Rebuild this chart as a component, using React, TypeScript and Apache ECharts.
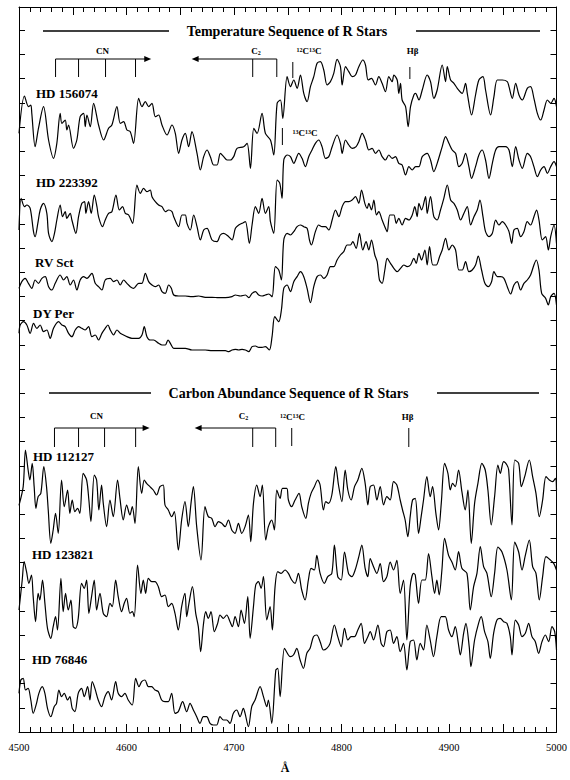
import React, { useEffect, useRef } from "react";
import * as echarts from "echarts";

type Pt = [number, number];

// Wavelength axis (Å)
const lambdaMin = 4500;
const lambdaMax = 5000;
const lambdaLabels = [4500, 4600, 4700, 4800, 4900, 5000];

// Relative flux, arbitrary units, spectra stacked with offsets
const fluxMax = 2175;
const fluxTick = 72.6;

const hd156074: Pt[] = [[4500,1796],[4505.1,1908],[4508.8,1876],[4511.0,1881],[4511.9,1856],[4515.0,1756],[4518.1,1811],[4522.8,1876],[4527.5,1776],[4532.1,1721],[4535.2,1766],[4538.3,1856],[4539.9,1826],[4543.0,1836],[4544.5,1806],[4546.1,1821],[4550.7,1751],[4553.8,1776],[4556.9,1846],[4560.1,1856],[4561.6,1816],[4563.2,1851],[4566.3,1816],[4569.4,1886],[4574.0,1821],[4578.7,1776],[4583.3,1811],[4586.4,1821],[4591.1,1876],[4594.2,1826],[4597.3,1831],[4600.4,1806],[4603.5,1801],[4606.6,1766],[4611.3,1901],[4614.4,1876],[4617.5,1891],[4620.6,1876],[4623.7,1886],[4626.8,1846],[4629.9,1851],[4633.0,1821],[4637.7,1791],[4642.3,1821],[4645.4,1796],[4648.5,1736],[4651.6,1776],[4654.7,1796],[4657.8,1756],[4660.9,1801],[4665.6,1736],[4668.7,1686],[4671.8,1726],[4674.9,1746],[4678.0,1726],[4681.1,1701],[4684.2,1701],[4687.3,1736],[4690.4,1726],[4693.5,1716],[4696.6,1716],[4699.7,1726],[4702.8,1751],[4709.0,1756],[4712.2,1766],[4715.3,1691],[4718.4,1811],[4721.5,1796],[4726.1,1856],[4729.2,1796],[4733.9,1776],[4737.0,1731],[4740.1,1886],[4743.2,1896],[4745.4,1841],[4749.4,1966],[4752.5,1936],[4755.6,1956],[4758.7,1931],[4761.8,1971],[4764.9,1916],[4768.0,1891],[4771.1,1936],[4774.2,1966],[4777.3,2006],[4780.4,2011],[4783.5,1986],[4786.6,1941],[4789.7,1951],[4792.8,1976],[4795.9,2018],[4799.0,1996],[4800.6,1941],[4803.7,1996],[4806.8,1981],[4809.9,1966],[4813.0,1971],[4816.1,1996],[4819.8,2016],[4822.3,2001],[4824.8,1956],[4827.9,1961],[4831.6,1941],[4834.7,1966],[4837.8,1946],[4840.9,1921],[4844.0,1966],[4847.1,1951],[4848.7,1971],[4851.8,1956],[4853.3,1916],[4854.9,1946],[4856.4,1896],[4859.6,1876],[4862.0,1816],[4864.2,1876],[4867.3,1911],[4868.9,1916],[4872.0,1896],[4875.1,1926],[4879.7,1971],[4882.8,1951],[4885.9,1901],[4889.0,1926],[4893.7,2001],[4896.8,1951],[4898.4,1996],[4901.5,1956],[4904.6,1946],[4907.7,1931],[4912.3,1916],[4915.4,1946],[4917.0,1916],[4921.0,1851],[4924.7,1911],[4927.8,1956],[4931.6,1966],[4934.0,1926],[4938.7,1851],[4941.8,1906],[4944.9,1956],[4949.6,1956],[4954.2,1951],[4955.8,1936],[4958.9,1901],[4962.0,1946],[4965.1,1911],[4968.2,1896],[4972.8,1931],[4975.9,1936],[4979.0,1901],[4982.2,1856],[4985.3,1836],[4988.4,1866],[4991.5,1896],[4994.6,1886],[4997.7,1901],[5000,1876]];

const hd223392: Pt[] = [[4500,1506],[4502.0,1601],[4505.1,1576],[4507.3,1581],[4510.4,1571],[4513.5,1501],[4515.0,1486],[4517.5,1526],[4519.7,1566],[4522.8,1586],[4525.9,1556],[4527.5,1496],[4530.6,1471],[4533.0,1496],[4535.2,1536],[4538.3,1581],[4540.5,1546],[4543.0,1561],[4544.5,1541],[4547.6,1556],[4549.2,1536],[4552.9,1496],[4555.4,1546],[4558.5,1586],[4561.0,1591],[4562.2,1556],[4564.7,1591],[4567.2,1556],[4570.0,1611],[4572.5,1576],[4574.0,1546],[4577.7,1516],[4580.2,1536],[4583.3,1556],[4586.4,1561],[4590.2,1611],[4593.3,1566],[4596.4,1576],[4598.9,1556],[4602.0,1551],[4605.7,1526],[4609.7,1641],[4612.8,1616],[4615.9,1631],[4619.0,1621],[4622.1,1626],[4623.7,1606],[4626.8,1591],[4629.9,1581],[4633.0,1576],[4636.1,1561],[4639.2,1566],[4642.3,1561],[4643.9,1546],[4648.5,1516],[4651.6,1551],[4654.7,1551],[4656.3,1526],[4659.4,1506],[4662.5,1551],[4665.6,1516],[4668.7,1476],[4671.8,1506],[4674.9,1511],[4679.6,1476],[4684.2,1471],[4687.3,1491],[4690.4,1496],[4695.1,1486],[4698.2,1476],[4701.3,1511],[4704.4,1521],[4707.5,1526],[4710.6,1531],[4714.3,1466],[4716.8,1521],[4719.9,1576],[4723.0,1556],[4726.1,1601],[4729.2,1556],[4732.3,1576],[4733.9,1531],[4737.0,1496],[4740.1,1656],[4742.6,1646],[4744.7,1601],[4746.3,1716],[4749.4,1731],[4752.5,1726],[4755.6,1706],[4760.2,1736],[4763.3,1721],[4766.4,1696],[4769.5,1726],[4772.6,1746],[4775.7,1766],[4778.8,1776],[4781.9,1756],[4785.1,1721],[4788.2,1726],[4791.3,1756],[4795.9,1791],[4799.0,1766],[4800.6,1736],[4803.7,1776],[4806.8,1761],[4809.9,1751],[4813.6,1756],[4816.1,1771],[4819.2,1796],[4822.3,1776],[4825.4,1746],[4828.5,1751],[4831.6,1736],[4834.7,1746],[4837.8,1726],[4840.9,1716],[4844.0,1731],[4847.1,1721],[4850.2,1726],[4853.3,1706],[4856.4,1701],[4859.6,1671],[4862.7,1696],[4865.8,1686],[4868.9,1696],[4872.0,1696],[4875.1,1726],[4879.7,1736],[4882.8,1716],[4885.9,1681],[4889.0,1706],[4893.7,1756],[4896.8,1786],[4899.9,1766],[4903.0,1746],[4906.1,1736],[4909.2,1696],[4912.3,1706],[4915.4,1736],[4918.5,1696],[4921.0,1661],[4924.7,1696],[4927.8,1731],[4930.9,1746],[4934.0,1716],[4937.2,1661],[4940.3,1706],[4943.4,1746],[4946.5,1756],[4952.7,1756],[4955.8,1746],[4958.9,1696],[4962.0,1756],[4965.1,1716],[4968.2,1691],[4972.8,1736],[4975.9,1726],[4979.0,1696],[4982.2,1666],[4985.3,1686],[4988.4,1696],[4991.5,1676],[4994.6,1696],[4997.7,1711],[5000,1696]];

const rvSct: Pt[] = [[4500,1331],[4502.6,1351],[4505.7,1361],[4508.8,1346],[4511.9,1331],[4515.0,1356],[4518.1,1346],[4521.3,1361],[4524.4,1366],[4527.5,1336],[4530.6,1326],[4533.7,1346],[4538.3,1371],[4541.4,1356],[4544.5,1366],[4547.6,1341],[4550.7,1356],[4553.8,1326],[4556.9,1356],[4560.1,1366],[4563.2,1361],[4567.8,1376],[4570.9,1346],[4574.0,1336],[4577.1,1326],[4580.2,1356],[4584.9,1361],[4588.0,1351],[4591.1,1356],[4594.2,1341],[4597.3,1356],[4600.4,1346],[4603.5,1336],[4606.6,1331],[4611.3,1346],[4614.4,1346],[4617.5,1376],[4620.6,1351],[4623.7,1341],[4626.8,1336],[4629.9,1341],[4633.0,1321],[4636.1,1316],[4639.2,1341],[4641.7,1331],[4643.9,1311],[4648.5,1308],[4654.7,1308],[4660.9,1306],[4667.1,1308],[4673.3,1304],[4679.6,1304],[4685.8,1303],[4692.0,1303],[4698.2,1306],[4701.3,1311],[4705.9,1308],[4710.6,1311],[4713.7,1303],[4716.8,1316],[4719.9,1321],[4723.0,1311],[4726.1,1308],[4729.2,1311],[4732.3,1314],[4735.4,1306],[4738.5,1396],[4741.6,1386],[4744.1,1356],[4746.3,1476],[4749.4,1496],[4752.5,1491],[4755.6,1501],[4758.7,1516],[4761.8,1521],[4764.9,1516],[4768.0,1511],[4770.2,1476],[4772.0,1461],[4775.7,1501],[4778.8,1521],[4781.9,1516],[4785.1,1516],[4788.2,1506],[4791.3,1536],[4794.4,1566],[4797.5,1546],[4800.6,1576],[4803.7,1591],[4806.8,1591],[4809.9,1596],[4813.0,1606],[4816.1,1586],[4818.6,1626],[4821.7,1586],[4823.9,1571],[4825.4,1586],[4827.9,1566],[4830.1,1596],[4832.5,1551],[4834.7,1561],[4837.8,1536],[4840.3,1516],[4842.5,1501],[4845.0,1551],[4848.7,1551],[4850.9,1526],[4853.3,1541],[4856.4,1521],[4859.6,1541],[4862.7,1536],[4865.8,1551],[4868.2,1576],[4870.4,1546],[4872.0,1586],[4874.5,1566],[4878.2,1606],[4879.7,1556],[4882.8,1606],[4885.9,1546],[4889.0,1536],[4892.1,1566],[4895.2,1601],[4898.4,1641],[4901.5,1596],[4904.6,1586],[4907.7,1566],[4910.8,1536],[4913.9,1556],[4917.0,1576],[4920.1,1521],[4923.2,1546],[4926.3,1566],[4928.8,1596],[4931.6,1546],[4934.0,1501],[4937.2,1486],[4940.3,1496],[4943.4,1536],[4946.5,1521],[4949.6,1531],[4952.7,1521],[4955.8,1501],[4958.3,1466],[4960.4,1506],[4963.5,1511],[4966.6,1486],[4969.7,1501],[4972.8,1531],[4975.9,1521],[4979.0,1546],[4981.5,1566],[4983.7,1536],[4986.8,1476],[4989.9,1486],[4992.4,1446],[4994.6,1486],[4997.7,1521],[5000,1466]];

const dyPer: Pt[] = [[4500,1196],[4501.1,1221],[4504.2,1231],[4507.3,1221],[4510.4,1196],[4513.5,1226],[4516.6,1211],[4519.7,1221],[4522.8,1201],[4525.9,1206],[4529.0,1181],[4532.1,1211],[4536.8,1231],[4539.9,1221],[4543.0,1216],[4546.1,1196],[4549.2,1186],[4552.3,1206],[4555.4,1216],[4558.5,1211],[4561.6,1206],[4564.7,1216],[4567.8,1186],[4570.9,1191],[4574.0,1176],[4577.1,1196],[4580.2,1211],[4582.7,1221],[4584.9,1206],[4588.0,1191],[4591.1,1206],[4594.2,1196],[4597.3,1191],[4600.4,1186],[4605.1,1181],[4608.2,1181],[4611.3,1181],[4614.4,1191],[4616.5,1216],[4619.0,1186],[4622.1,1176],[4625.2,1176],[4629.9,1166],[4633.0,1161],[4636.1,1161],[4638.6,1176],[4640.8,1166],[4643.9,1151],[4648.5,1151],[4654.7,1151],[4660.9,1146],[4667.1,1146],[4673.3,1146],[4679.6,1144],[4685.8,1144],[4692.0,1144],[4695.1,1141],[4698.2,1146],[4701.3,1148],[4704.4,1146],[4707.5,1148],[4710.6,1146],[4713.7,1141],[4716.8,1156],[4719.9,1158],[4723.0,1154],[4726.1,1154],[4729.2,1156],[4732.9,1146],[4735.4,1186],[4737.9,1246],[4741.6,1231],[4744.1,1266],[4746.3,1331],[4749.4,1341],[4752.5,1321],[4755.6,1351],[4758.7,1366],[4761.8,1381],[4764.9,1366],[4768.0,1331],[4771.1,1288],[4774.2,1336],[4777.3,1366],[4780.4,1371],[4783.5,1361],[4786.6,1371],[4789.7,1396],[4792.8,1396],[4795.9,1416],[4799.0,1431],[4802.1,1441],[4805.2,1461],[4808.3,1461],[4810.5,1471],[4813.6,1451],[4816.7,1496],[4819.8,1446],[4822.9,1471],[4825.4,1446],[4827.9,1476],[4831.0,1431],[4833.2,1411],[4835.3,1356],[4837.8,1346],[4840.3,1386],[4842.5,1421],[4845.6,1406],[4848.7,1391],[4851.8,1381],[4854.9,1391],[4858.0,1401],[4861.1,1396],[4864.2,1401],[4867.3,1421],[4869.5,1406],[4872.0,1436],[4874.5,1416],[4877.6,1446],[4879.7,1401],[4881.9,1456],[4885.0,1401],[4888.1,1401],[4891.2,1426],[4893.7,1446],[4896.8,1481],[4899.9,1446],[4903.0,1461],[4906.1,1446],[4909.2,1386],[4912.3,1386],[4915.4,1411],[4918.5,1381],[4921.6,1386],[4924.7,1401],[4927.2,1428],[4930.3,1386],[4933.4,1346],[4936.5,1336],[4939.6,1351],[4941.8,1381],[4944.9,1366],[4948.0,1366],[4951.1,1361],[4954.2,1336],[4957.3,1314],[4960.4,1341],[4963.5,1351],[4966.6,1326],[4969.7,1346],[4972.8,1356],[4975.9,1371],[4979.0,1401],[4981.2,1416],[4983.7,1386],[4986.2,1316],[4989.9,1301],[4992.4,1281],[4994.6,1306],[4997.7,1316],[5000,1281]];

const hd112127: Pt[] = [[4500,680],[4503.9,736],[4506.0,846],[4508.5,786],[4510.1,756],[4512.3,806],[4514.1,736],[4515.7,671],[4517.8,706],[4520.3,716],[4523.1,796],[4525.6,736],[4527.2,666],[4529.6,566],[4531.8,606],[4534.0,656],[4536.5,596],[4539.6,756],[4542.1,676],[4545.2,726],[4547.3,656],[4549.5,696],[4552.0,661],[4554.5,671],[4556.6,656],[4559.7,776],[4562.9,756],[4565.0,696],[4566.9,631],[4570.0,771],[4572.2,756],[4574.3,666],[4576.8,741],[4578.4,686],[4581.5,616],[4584.6,696],[4587.7,646],[4591.7,756],[4593.9,701],[4597.0,636],[4600.1,681],[4603.2,651],[4605.4,676],[4607.9,626],[4611.0,796],[4614.1,716],[4616.5,756],[4618.7,746],[4621.8,736],[4624.9,726],[4628.0,711],[4631.1,736],[4634.2,741],[4635.8,681],[4638.9,666],[4642.0,646],[4644.5,661],[4648.2,546],[4651.3,636],[4654.4,691],[4657.5,616],[4660.0,686],[4662.2,736],[4665.3,616],[4669.3,516],[4673.0,676],[4676.1,646],[4679.3,641],[4682.4,616],[4685.5,631],[4688.6,626],[4691.7,616],[4694.8,636],[4697.9,606],[4701.0,596],[4704.1,626],[4707.2,596],[4710.3,616],[4713.4,651],[4715.6,571],[4718.1,686],[4721.2,741],[4724.3,706],[4726.4,741],[4729.5,576],[4732.0,616],[4735.1,636],[4737.6,606],[4739.8,726],[4742.9,701],[4745.1,731],[4749.1,731],[4750.6,696],[4753.7,676],[4756.8,696],[4760.5,716],[4763.0,676],[4766.8,641],[4769.2,686],[4771.7,716],[4774.8,736],[4777.9,756],[4780.1,741],[4783.2,666],[4785.4,691],[4787.9,686],[4791.0,711],[4794.7,796],[4797.2,741],[4800.3,691],[4803.4,786],[4805.9,726],[4809.0,696],[4812.1,736],[4815.2,756],[4818.9,791],[4822.0,746],[4824.5,681],[4826.7,736],[4829.8,741],[4832.9,696],[4836.0,736],[4839.1,681],[4842.2,706],[4845.3,696],[4848.4,751],[4851.5,741],[4854.6,696],[4856.8,666],[4859.2,636],[4861.7,586],[4863.9,646],[4866.1,696],[4868.6,701],[4871.7,596],[4874.1,646],[4876.3,696],[4879.4,766],[4882.5,706],[4884.7,736],[4887.8,656],[4890.3,606],[4892.8,686],[4895.9,806],[4899.0,776],[4901.2,726],[4903.3,746],[4905.8,736],[4908.9,786],[4912.0,721],[4915.1,666],[4917.6,726],[4920.7,566],[4923.8,686],[4926.9,746],[4930.6,806],[4933.7,786],[4936.2,726],[4939.3,621],[4942.4,706],[4945.5,801],[4947.7,776],[4950.8,811],[4953.9,801],[4955.5,786],[4958.6,621],[4961.1,816],[4964.8,806],[4967.3,736],[4970.4,766],[4974.7,816],[4977.8,766],[4980.9,716],[4984.0,646],[4987.1,696],[4990.2,766],[4993.3,756],[4996.4,751],[4999.0,761],[5000,726]];

const hd123821: Pt[] = [[4500,366],[4503.0,456],[4504.8,511],[4507.0,481],[4509.2,446],[4511.6,471],[4513.2,406],[4515.4,331],[4517.8,416],[4519.4,396],[4521.9,456],[4524.1,386],[4526.5,311],[4529.6,281],[4531.8,316],[4534.0,346],[4535.8,306],[4539.0,461],[4541.1,361],[4543.3,416],[4545.8,366],[4548.3,396],[4550.4,316],[4552.6,311],[4555.1,341],[4558.2,446],[4560.7,431],[4562.9,456],[4565.0,356],[4567.5,406],[4570.0,456],[4572.2,366],[4575.3,416],[4578.4,356],[4581.5,346],[4584.6,386],[4586.8,376],[4589.9,456],[4592.3,406],[4595.4,361],[4597.9,386],[4600.1,401],[4603.2,356],[4605.4,361],[4607.2,346],[4610.3,501],[4613.4,416],[4615.6,456],[4617.8,416],[4620.3,461],[4623.4,451],[4626.5,451],[4629.6,436],[4632.7,406],[4635.8,411],[4638.9,376],[4642.0,386],[4645.1,356],[4648.2,306],[4651.3,376],[4654.4,416],[4656.0,346],[4658.1,386],[4661.3,436],[4664.4,356],[4666.8,316],[4669.0,241],[4671.5,321],[4673.7,361],[4676.1,341],[4678.6,361],[4681.7,301],[4684.8,326],[4687.0,351],[4690.1,341],[4693.2,351],[4696.3,331],[4698.5,316],[4701.0,346],[4704.1,316],[4706.6,366],[4709.7,326],[4712.8,406],[4715.0,281],[4718.1,376],[4720.2,441],[4722.7,451],[4725.2,431],[4727.4,466],[4730.5,336],[4733.6,376],[4735.7,306],[4738.2,436],[4740.7,481],[4743.8,476],[4747.5,486],[4750.6,476],[4753.7,456],[4756.8,446],[4759.9,476],[4763.0,426],[4766.1,396],[4769.2,456],[4771.7,491],[4774.8,486],[4777.0,530],[4780.1,476],[4784.1,446],[4787.2,466],[4791.0,476],[4793.4,561],[4796.5,466],[4799.7,456],[4802.8,540],[4806.5,476],[4809.6,466],[4812.7,486],[4816.4,530],[4818.9,561],[4822.0,491],[4824.5,466],[4826.7,520],[4829.8,496],[4832.9,476],[4836.0,505],[4839.1,451],[4842.2,466],[4845.3,510],[4848.4,486],[4851.5,515],[4854.6,416],[4857.7,456],[4860.8,276],[4863.9,436],[4867.0,476],[4868.6,471],[4871.7,386],[4874.8,456],[4877.9,456],[4881.0,535],[4884.1,466],[4886.6,416],[4888.7,456],[4890.9,411],[4893.4,486],[4895.9,581],[4899.6,530],[4902.7,510],[4905.8,486],[4908.9,541],[4912.0,491],[4916.7,476],[4919.8,366],[4922.9,436],[4926.0,476],[4929.1,556],[4932.2,496],[4935.3,476],[4939.3,406],[4942.4,476],[4945.5,555],[4949.3,540],[4953.9,486],[4958.0,396],[4961.1,570],[4964.8,540],[4967.9,486],[4971.0,530],[4974.7,576],[4977.8,496],[4980.9,476],[4984.0,396],[4987.1,466],[4990.2,526],[4994.3,516],[4997.4,506],[5000,486]];

const hd76846: Pt[] = [[4500,116],[4501.7,156],[4503.9,161],[4506.0,126],[4508.5,131],[4511.0,96],[4513.2,56],[4516.3,86],[4518.5,116],[4521.6,136],[4524.1,116],[4526.5,71],[4529.6,46],[4532.7,76],[4534.9,86],[4537.1,126],[4539.6,106],[4542.1,116],[4545.2,96],[4547.3,106],[4549.5,71],[4552.0,61],[4555.1,116],[4558.2,131],[4560.7,106],[4563.8,136],[4566.0,96],[4568.1,151],[4570.6,131],[4573.7,96],[4576.8,76],[4579.9,106],[4583.0,121],[4586.1,96],[4589.9,151],[4592.3,116],[4595.4,106],[4598.5,116],[4601.6,96],[4605.4,81],[4608.5,161],[4611.6,136],[4614.1,151],[4617.2,156],[4620.3,136],[4623.4,136],[4626.5,126],[4629.6,121],[4632.7,96],[4635.8,91],[4638.9,91],[4642.0,116],[4645.1,56],[4648.2,61],[4652.2,91],[4656.0,61],[4659.1,86],[4662.2,66],[4665.3,46],[4668.4,26],[4671.5,46],[4674.6,46],[4677.7,26],[4680.8,21],[4683.9,21],[4687.0,46],[4690.1,36],[4693.2,36],[4696.3,26],[4699.4,56],[4702.5,66],[4705.6,46],[4708.7,71],[4710.3,56],[4713.4,16],[4716.5,76],[4719.6,96],[4724.3,136],[4727.4,106],[4730.5,76],[4732.0,96],[4735.1,26],[4738.9,186],[4740.7,191],[4742.9,106],[4746.9,251],[4750.6,231],[4752.2,226],[4755.3,231],[4758.4,251],[4761.5,216],[4764.6,191],[4767.7,236],[4770.8,251],[4773.9,286],[4777.0,291],[4780.1,271],[4783.2,246],[4786.3,251],[4789.4,266],[4793.4,321],[4796.5,286],[4799.7,256],[4802.8,311],[4805.9,276],[4809.0,286],[4812.1,286],[4815.2,306],[4818.3,326],[4821.4,266],[4824.5,286],[4826.7,301],[4829.8,276],[4833.8,321],[4836.9,266],[4839.1,256],[4842.2,301],[4845.3,306],[4848.4,266],[4851.5,286],[4854.6,241],[4857.7,266],[4860.8,186],[4863.9,271],[4867.0,276],[4870.1,216],[4873.2,266],[4876.3,246],[4879.4,321],[4882.5,276],[4885.6,226],[4888.7,286],[4892.8,346],[4896.5,346],[4899.6,306],[4902.7,286],[4905.8,316],[4908.9,261],[4910.5,231],[4913.6,296],[4915.7,326],[4918.8,256],[4920.4,196],[4923.8,276],[4927.5,326],[4930.0,346],[4933.1,301],[4936.2,271],[4938.4,221],[4941.5,296],[4944.6,336],[4947.7,341],[4950.8,331],[4953.9,326],[4957.0,286],[4958.6,231],[4961.7,336],[4964.8,321],[4967.9,286],[4971.0,296],[4974.1,326],[4977.2,286],[4980.3,271],[4983.4,236],[4986.5,271],[4989.6,291],[4992.7,271],[4995.8,316],[4998.3,301],[5000,246]];

const starNames = ["HD 156074", "HD 223392", "RV Sct", "DY Per", "HD 112127", "HD 123821", "HD 76846"];
const spectra: Pt[][] = [hd156074, hd223392, rvSct, dyPer, hd112127, hd123821, hd76846];
const panelTitles = ["Temperature Sequence of R Stars", "Carbon Abundance Sequence of R Stars"];

// Band markers (Å)
const cnTop = [4534, 4555.4, 4580.5, 4608.4];
const cnTopArrow = 4623;
const c2Top = [4717.4, 4739.8];
const c2TopArrow = 4660.6;
const c1213Top = 4754.7;
const hbetaTop = 4863.6;
const c1313Top = 4745;
const cnBot = [4533, 4555.4, 4579.6, 4608.5];
const cnBotArrow = 4621.5;
const c2Bot = [4717.4, 4738.8];
const c2BotArrow = 4663.4;
const c1213Bot = 4753.7;
const hbetaBot = 4862.6;

const FONT = '"Liberation Serif", "Times New Roman", serif';

export default function App() {
  const ref = useRef<HTMLDivElement>(null);
  useEffect(() => {
    const chart = echarts.init(ref.current!, null, { renderer: "svg" });
    const gL = 19, gR = 556.5, gT = 7, gB = 732;
    const gW = gR - gL;
    const X = (lam: number) => gL + ((lam - lambdaMin) / (lambdaMax - lambdaMin)) * gW;

    const line = (x1: number, y1: number, x2: number, y2: number, w = 1) => ({
      type: "line", silent: true,
      shape: { x1, y1, x2, y2 },
      style: { stroke: "#000", lineWidth: w },
    });
    const text = (t: string, x: number, y: number, size: number, align = "center", weight = "bold") => ({
      type: "text", silent: true, x, y,
      style: {
        text: t, fill: "#000", font: `${weight} ${size}px ${FONT}`,
        textAlign: align, textVerticalAlign: "middle", align, verticalAlign: "middle",
      },
    });
    const rich = {
      c: { fontSize: 9, fontWeight: "bold", fontFamily: FONT, fill: "#000", color: "#000", verticalAlign: "middle" },
      sup: { fontSize: 6, fontWeight: "bold", fontFamily: FONT, fill: "#000", color: "#000", verticalAlign: "top" },
      sub: { fontSize: 6, fontWeight: "bold", fontFamily: FONT, fill: "#000", color: "#000", verticalAlign: "bottom" },
    };
    const richText = (t: string, x: number, y: number) => ({
      type: "text", silent: true, x, y,
      style: {
        text: t, rich, fill: "#000", font: `bold 9px ${FONT}`,
        textAlign: "center", textVerticalAlign: "middle", align: "center", verticalAlign: "middle",
      },
    });
    const arrow = (tipX: number, y: number, dir: number) => ({
      type: "polygon", silent: true,
      shape: { points: [[tipX, y], [tipX - dir * 7, y - 3], [tipX - dir * 7, y + 3]] },
      style: { fill: "#000" },
    });

    const g: any[] = [];
    // Top panel
    g.push(line(43, 31, 169, 31, 1.3), line(416, 31, 540, 31, 1.3));
    g.push(text(panelTitles[0], 287, 31, 14));
    g.push(text("CN", 102.5, 51, 9));
    g.push(line(X(cnTop[0]), 59, X(cnTopArrow) - 6, 59));
    g.push(arrow(X(cnTopArrow), 59, 1));
    cnTop.forEach((l) => g.push(line(X(l), 59, X(l), 77)));
    g.push(richText("{c|C}{sub|2}", 256, 51));
    g.push(line(X(c2Top[1]), 59, X(c2TopArrow) + 6, 59));
    g.push(arrow(X(c2TopArrow), 59, -1));
    c2Top.forEach((l) => g.push(line(X(l), 59, X(l), 77)));
    g.push(richText("{sup|12}{c|C}{sup|13}{c|C}", 309, 51));
    g.push(line(X(c1213Top), 62, X(c1213Top), 78));
    g.push(text("Hβ", 412.5, 51, 9));
    g.push(line(X(hbetaTop), 67, X(hbetaTop), 79));
    g.push(richText("{sup|13}{c|C}{sup|13}{c|C}", 305, 133));
    g.push(line(X(c1313Top), 128, X(c1313Top), 145));
    // Bottom panel
    g.push(line(49, 393, 151, 393, 1.3), line(437, 393, 539, 393, 1.3));
    g.push(text(panelTitles[1], 288.5, 393, 14));
    g.push(text("CN", 96.5, 416, 9));
    g.push(line(X(cnBot[0]), 428, X(cnBotArrow) - 6, 428));
    g.push(arrow(X(cnBotArrow), 428, 1));
    cnBot.forEach((l) => g.push(line(X(l), 428, X(l), 447)));
    g.push(richText("{c|C}{sub|2}", 243.5, 416));
    g.push(line(X(c2Bot[1]), 428, X(c2BotArrow) + 6, 428));
    g.push(arrow(X(c2BotArrow), 428, -1));
    c2Bot.forEach((l) => g.push(line(X(l), 428, X(l), 447)));
    g.push(richText("{sup|12}{c|C}{sup|13}{c|C}", 292.5, 417));
    g.push(line(X(c1213Bot), 428, X(c1213Bot), 446));
    g.push(text("Hβ", 407.5, 417, 9));
    g.push(line(X(hbetaBot), 428, X(hbetaBot), 447));
    // Star labels
    const labelPos: [number, number][] = [[36, 93], [36, 182], [35, 262], [33, 313], [33, 456], [32, 554], [32, 659]];
    starNames.forEach((n, i) => g.push(text(n, labelPos[i][0], labelPos[i][1], 13, "left")));
    // axis title
    g.push(text("Å", 285, 768, 12));

    const xBase = (pos: "top" | "bottom", labels: boolean) => ({
      type: "value", min: lambdaMin, max: lambdaMax, interval: 50, position: pos,
      axisLine: { show: true, onZero: false, lineStyle: { color: "#000", width: 1 } },
      axisTick: { show: true, inside: true, length: 8, lineStyle: { color: "#000", width: 1 } },
      minorTick: { show: true, splitNumber: 5, length: 5, lineStyle: { color: "#000", width: 1 } },
      splitLine: { show: false }, minorSplitLine: { show: false },
      axisLabel: {
        show: labels, margin: 10, color: "#000", fontFamily: FONT, fontSize: 10.5,
        formatter: (v: number) => (lambdaLabels.includes(v) ? String(v) : ""),
      },
    });
    const yBase = (pos: "left" | "right") => ({
      type: "value", min: 0, max: fluxMax, interval: fluxTick, position: pos,
      axisLine: { show: true, onZero: false, lineStyle: { color: "#000", width: 1 } },
      axisTick: { show: true, inside: true, length: 6, lineStyle: { color: "#000", width: 1 } },
      axisLabel: { show: false }, splitLine: { show: false },
    });

    chart.setOption({
      animation: false,
      backgroundColor: "#fff",
      grid: { left: gL, right: 570 - gR, top: gT, bottom: 780 - gB, containLabel: false },
      xAxis: [xBase("bottom", true), xBase("top", false)],
      yAxis: [yBase("left"), yBase("right")],
      series: spectra.map((d, i) => ({
        name: starNames[i], type: "line", data: d, xAxisIndex: 0, yAxisIndex: 0,
        symbol: "none", showSymbol: false, smooth: 0.3, silent: true,
        lineStyle: { color: "#000", width: 1.2 },
      })),
      graphic: g,
    });
    return () => chart.dispose();
  }, []);
  return (
    <div
      ref={ref}
      style={{ position: "fixed", left: 0, top: 0, width: 570, height: 780, background: "#fff" }}
    />
  );
}
